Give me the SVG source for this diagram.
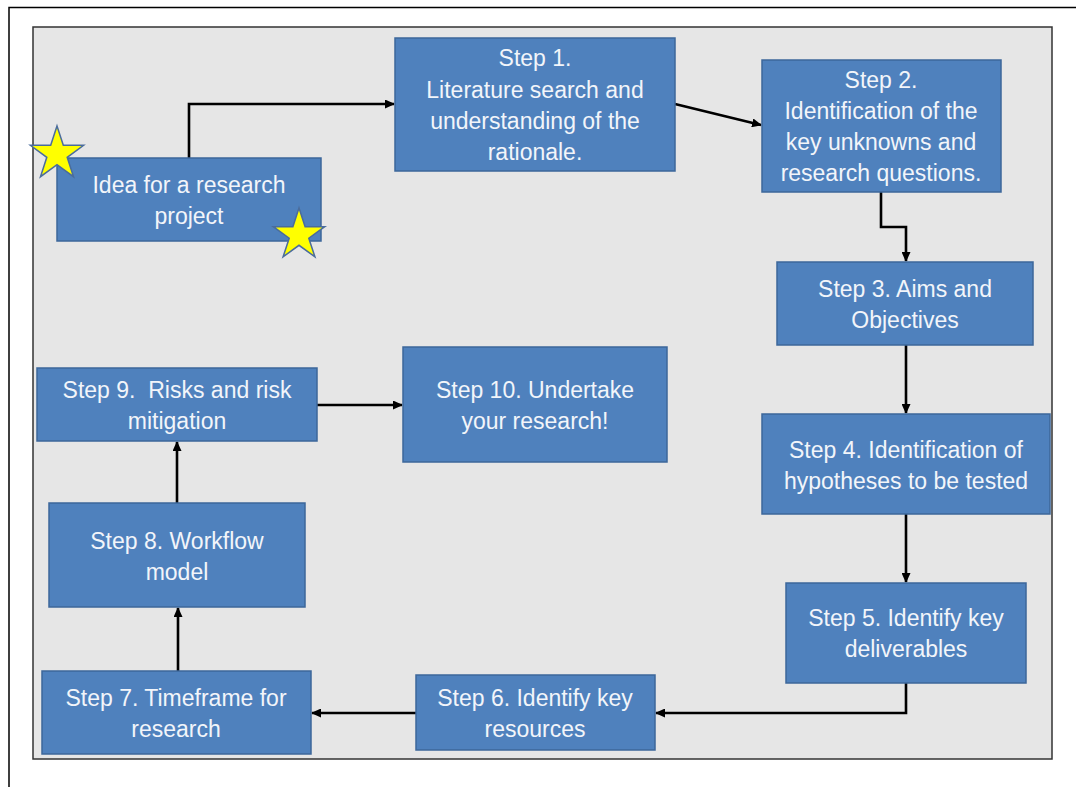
<svg xmlns="http://www.w3.org/2000/svg" width="1076" height="787" viewBox="0 0 1076 787">
<defs>
<style>
.box{fill:#4f81bd;stroke:#3d679a;stroke-width:1.5}
.t{font-family:"Liberation Sans",Arial,sans-serif;font-size:23px;fill:#f2f5fa;text-anchor:middle;white-space:pre}
.c{fill:none;stroke:#000;stroke-width:2.6;marker-end:url(#ah)}
.star{fill:#ffff00;stroke:#4a6c9c;stroke-width:1.5}
</style>
<marker id="ah" markerUnits="userSpaceOnUse" markerWidth="10" markerHeight="9" refX="9" refY="4.5" orient="auto">
<path d="M0,0 L10,4.5 L0,9 z" fill="#000"/>
</marker>
</defs>
<rect width="1076" height="787" fill="#fff"/>
<path d="M9,787 V7.5 H1076" fill="none" stroke="#000" stroke-width="1.5"/>
<rect x="33" y="27" width="1019" height="732" fill="#e6e6e6" stroke="#333" stroke-width="1.5"/>

<g id="connectors">
<path class="c" d="M189,158 V104 H394"/>
<path class="c" d="M675,104 L761,125"/>
<path class="c" d="M881,192 V227 H906 V261"/>
<path class="c" d="M906,345 V413"/>
<path class="c" d="M906,514 V582"/>
<path class="c" d="M906,683 V713 H656"/>
<path class="c" d="M416,713 H312"/>
<path class="c" d="M178,671 V608"/>
<path class="c" d="M177,503 V442"/>
<path class="c" d="M317,405 H402"/>
</g>

<g id="idea">
<rect class="box" x="57" y="158" width="264" height="83"/>
<text class="t" x="189" y="193">Idea for a research</text>
<text class="t" x="189" y="224">project</text>
</g>
<g id="step1">
<rect class="box" x="395" y="38" width="280" height="133"/>
<text class="t" x="535" y="66">Step 1.</text>
<text class="t" x="535" y="98">Literature search and</text>
<text class="t" x="535" y="129">understanding of the</text>
<text class="t" x="535" y="160">rationale.</text>
</g>
<g id="step2">
<rect class="box" x="762" y="60" width="239" height="132"/>
<text class="t" x="881" y="88">Step 2.</text>
<text class="t" x="881" y="119">Identification of the</text>
<text class="t" x="881" y="150">key unknowns and</text>
<text class="t" x="881" y="181">research questions.</text>
</g>
<g id="step3">
<rect class="box" x="777" y="262" width="256" height="83"/>
<text class="t" x="905" y="297">Step 3. Aims and</text>
<text class="t" x="905" y="328">Objectives</text>
</g>
<g id="step4">
<rect class="box" x="762" y="414" width="288" height="100"/>
<text class="t" x="906" y="458">Step 4. Identification of</text>
<text class="t" x="906" y="489">hypotheses to be tested</text>
</g>
<g id="step5">
<rect class="box" x="786" y="583" width="240" height="100"/>
<text class="t" x="906" y="626">Step 5. Identify key</text>
<text class="t" x="906" y="657">deliverables</text>
</g>
<g id="step6">
<rect class="box" x="416" y="675" width="239" height="75"/>
<text class="t" x="535" y="706">Step 6. Identify key</text>
<text class="t" x="535" y="737">resources</text>
</g>
<g id="step7">
<rect class="box" x="42" y="671" width="269" height="83"/>
<text class="t" x="176" y="706">Step 7. Timeframe for</text>
<text class="t" x="176" y="737">research</text>
</g>
<g id="step8">
<rect class="box" x="49" y="503" width="256" height="104"/>
<text class="t" x="177" y="549">Step 8. Workflow</text>
<text class="t" x="177" y="580">model</text>
</g>
<g id="step9">
<rect class="box" x="37" y="368" width="280" height="73"/>
<text class="t" x="177" y="398">Step 9.  Risks and risk</text>
<text class="t" x="177" y="429">mitigation</text>
</g>
<g id="step10">
<rect class="box" x="403" y="347" width="264" height="115"/>
<text class="t" x="535" y="398">Step 10. Undertake</text>
<text class="t" x="535" y="429">your research!</text>
</g>

<g id="stars">
<polygon class="star" transform="translate(57,154)" points="0,-28 6.3,-8.7 26.6,-8.7 10.2,3.3 16.5,22.7 0,10.7 -16.5,22.7 -10.2,3.3 -26.6,-8.7 -6.3,-8.7"/>
<polygon class="star" transform="translate(299,235)" points="0,-27 6.1,-8.3 25.7,-8.3 9.8,3.2 15.9,21.8 0,10.3 -15.9,21.8 -9.8,3.2 -25.7,-8.3 -6.1,-8.3"/>
</g>
</svg>
